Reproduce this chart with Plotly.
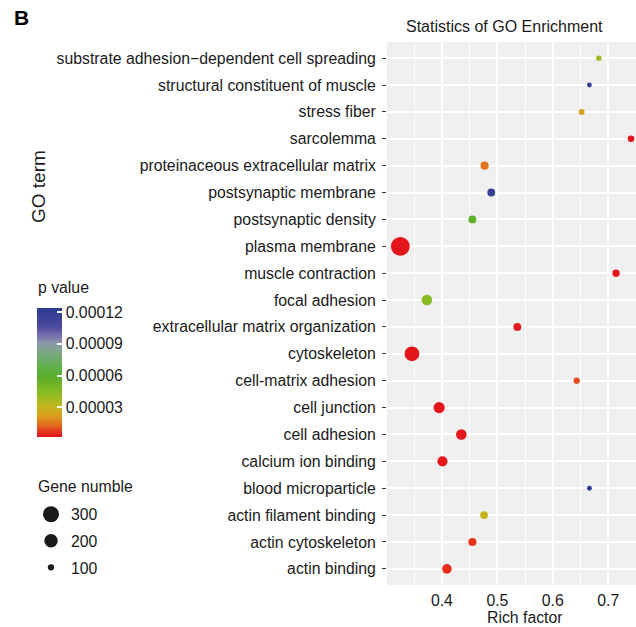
import math
import plotly.graph_objects as go

# ---------------- data ----------------
terms = [
    "substrate adhesion\u2212dependent cell spreading",
    "structural constituent of muscle",
    "stress fiber",
    "sarcolemma",
    "proteinaceous extracellular matrix",
    "postsynaptic membrane",
    "postsynaptic density",
    "plasma membrane",
    "muscle contraction",
    "focal adhesion",
    "extracellular matrix organization",
    "cytoskeleton",
    "cell-matrix adhesion",
    "cell junction",
    "cell adhesion",
    "calcium ion binding",
    "blood microparticle",
    "actin filament binding",
    "actin cytoskeleton",
    "actin binding",
]
rich_factor = [0.683, 0.666, 0.652, 0.741, 0.477, 0.489, 0.455, 0.325, 0.714, 0.373,
               0.536, 0.346, 0.643, 0.395, 0.435, 0.401, 0.666, 0.476, 0.455, 0.409]
gene_number = [93, 88, 96, 102, 119, 115, 115, 320, 110, 151,
               115, 225, 99, 160, 151, 145, 88, 115, 119, 137]
p_value = [3.9e-5, 1.20e-4, 2.3e-5, 2.0e-6, 1.5e-5, 1.18e-4, 5.7e-5, 2.0e-6, 2.5e-6, 4.5e-5,
           3.0e-6, 2.0e-6, 9.0e-6, 2.0e-6, 2.5e-6, 3.0e-6, 1.24e-4, 2.9e-5, 7.0e-6, 5.7e-6]

x_ticks = [0.4, 0.5, 0.6, 0.7]
x_tick_labels = ["0.4", "0.5", "0.6", "0.7"]
p_ticks = [3e-5, 6e-5, 9e-5, 1.2e-4]
p_tick_labels = ["0.00003", "0.00006", "0.00009", "0.00012"]
size_legend_values = [300, 200, 100]

# ---------------- scales ----------------
P_MIN, P_MAX = 2.0e-6, 1.24e-4
X_RANGE = [0.301, 0.75]


def size_px(n):
    # area-linear size scale (like ggplot scale_size)
    return math.sqrt(max(1.42 * n - 102, 4))


colorscale = [
    [0.00, "#E3141C"],
    [0.04, "#E5331D"],
    [0.08, "#E4601E"],
    [0.156, "#DC9A1E"],
    [0.234, "#C4B81E"],
    [0.338, "#8CBA22"],
    [0.468, "#5AAE2A"],
    [0.545, "#5EAF4A"],
    [0.65, "#7AA882"],
    [0.727, "#8A9AAA"],
    [0.78, "#7A72B0"],
    [0.857, "#4B4A9E"],
    [1.00, "#2B3990"],
]

# layout geometry (pixels)
W, H = 636, 627
L, R, T, B = 387, 0, 42, 42
PW, PH = W - L - R, H - T - B


def px_x(x):
    return (x - L) / PW


def px_y(y):
    return (H - B - y) / PH


FONT = "Liberation Sans, Arial, Helvetica, sans-serif"
TXT = "#1a1a1a"
FS = 15.8

fig = go.Figure()

fig.add_trace(go.Scatter(
    x=rich_factor,
    y=terms,
    mode="markers",
    showlegend=False,
    cliponaxis=False,
    marker=dict(
        size=[size_px(n) for n in gene_number],
        color=p_value,
        cmin=P_MIN,
        cmax=P_MAX,
        colorscale=colorscale,
        opacity=1,
        line=dict(width=0),
        colorbar=dict(
            x=px_x(37), xanchor="left", xpad=0,
            y=px_y(372.5), yanchor="middle", ypad=0,
            lenmode="pixels", len=129, thickness=25,
            outlinewidth=0,
            tickvals=p_ticks, ticktext=p_tick_labels,
            ticks="inside", ticklen=5, tickcolor="white", tickwidth=1.5,
            tickfont=dict(family=FONT, size=FS, color=TXT),
        ),
    ),
    hovertemplate="%{y}<br>Rich factor %{x}<extra></extra>",
))

for v in size_legend_values:
    fig.add_trace(go.Scatter(
        x=[None], y=[None], mode="markers", name=str(v),
        legendgroup=str(v), showlegend=True,
        marker=dict(size=size_px(v), color=TXT, line=dict(width=0)),
    ))

fig.update_layout(
    width=W, height=H,
    margin=dict(l=L, r=R, t=T, b=B, pad=0, autoexpand=False),
    plot_bgcolor="#EFEFEF",
    paper_bgcolor="white",
    font=dict(family=FONT, size=FS, color=TXT),
    legend=dict(
        x=px_x(31), xanchor="left",
        y=px_y(497.5), yanchor="top",
        font=dict(family=FONT, size=FS, color=TXT),
        itemsizing="trace",
        tracegroupgap=3,
        bgcolor="rgba(0,0,0,0)",
    ),
    xaxis=dict(
        range=X_RANGE,
        automargin=False,
        tickvals=x_ticks, ticktext=x_tick_labels,
        showgrid=True, gridcolor="white", gridwidth=2,
        minor=dict(tickvals=[0.35, 0.45, 0.55, 0.65, 0.75], showgrid=True,
                   gridcolor="white", gridwidth=1),
        zeroline=False, showline=False,
        ticks="", ticklabelstandoff=4,
        tickfont=dict(family=FONT, size=FS, color=TXT),
    ),
    yaxis=dict(
        type="category",
        automargin=False,
        categoryorder="array",
        categoryarray=list(reversed(terms)),
        range=[-0.6, len(terms) - 0.4],
        showgrid=True, gridcolor="white", gridwidth=2,
        zeroline=False, showline=False,
        ticks="outside", ticklen=4, tickcolor="#333333", tickwidth=1,
        ticklabelstandoff=3,
        tickfont=dict(family=FONT, size=FS, color=TXT),
    ),
    annotations=[
        dict(text="B", x=px_x(12), y=px_y(17.5), xref="paper", yref="paper",
             xanchor="left", yanchor="middle", showarrow=False,
             font=dict(family=FONT, size=21, color="black", weight="bold")),
        dict(text="Statistics of GO Enrichment", x=px_x(504), y=px_y(27),
             xref="paper", yref="paper", xanchor="center", yanchor="middle",
             showarrow=False, font=dict(family=FONT, size=16, color=TXT)),
        dict(text="GO term", x=px_x(38), y=px_y(187), xref="paper", yref="paper",
             xanchor="center", yanchor="middle", textangle=-90, showarrow=False,
             font=dict(family=FONT, size=19, color=TXT)),
        dict(text="Rich factor", x=px_x(525), y=px_y(617), xref="paper", yref="paper",
             xanchor="center", yanchor="middle", showarrow=False,
             font=dict(family=FONT, size=FS, color=TXT)),
        dict(text="p value", x=px_x(36), y=px_y(287), xref="paper", yref="paper",
             xanchor="left", yanchor="middle", showarrow=False,
             font=dict(family=FONT, size=FS, color=TXT)),
        dict(text="Gene numble", x=px_x(36), y=px_y(486), xref="paper", yref="paper",
             xanchor="left", yanchor="middle", showarrow=False,
             font=dict(family=FONT, size=FS, color=TXT)),
    ],
)

fig.write_html("out.html", config={"displayModeBar": False},
               post_script="document.body.style.margin='0';")
